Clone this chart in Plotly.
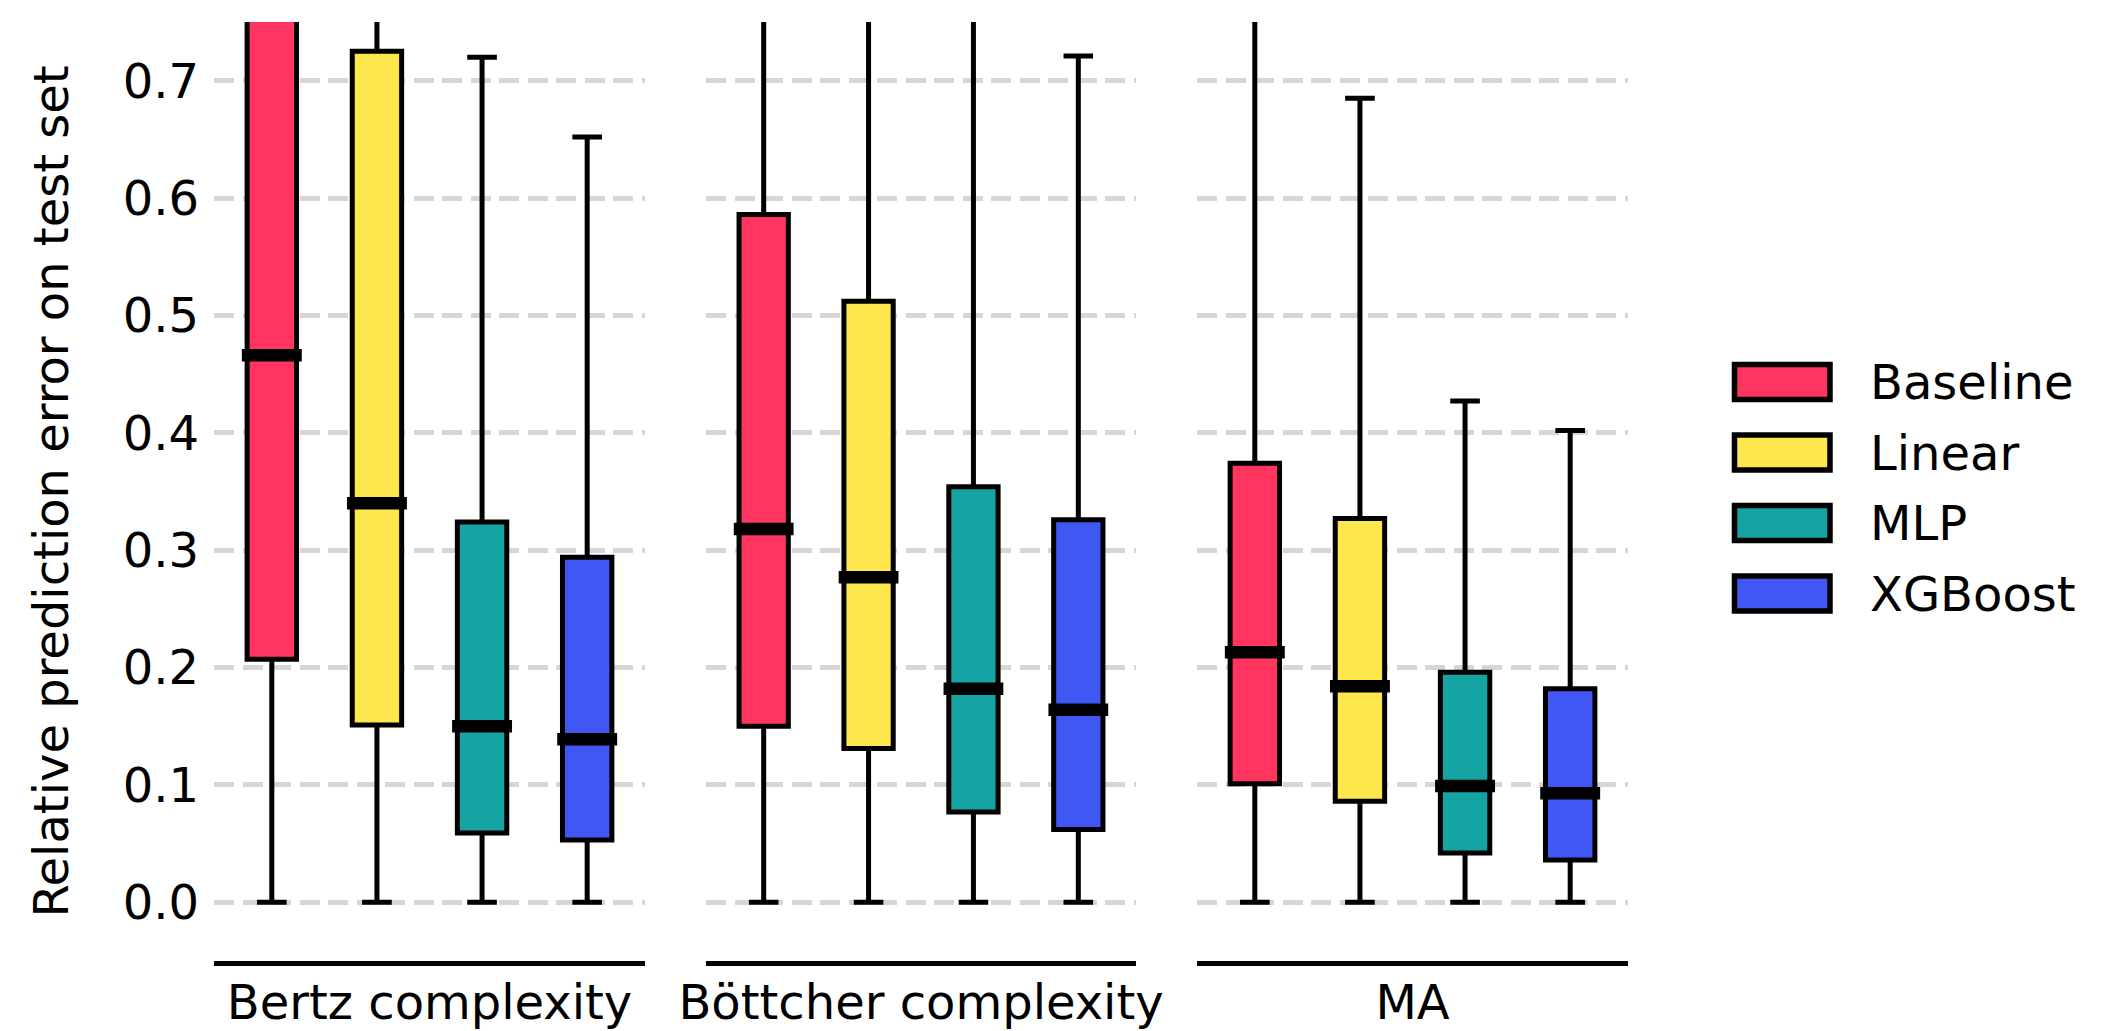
import plotly.graph_objects as go

# ---------------- data ----------------
facets = ["Bertz complexity", "Böttcher complexity", "MA"]
models = ["Baseline", "Linear", "MLP", "XGBoost"]
colors = ["#FF3560", "#FDE74C", "#15A3A3", "#4057F3"]

# rows = facets, columns = models
lower_fence = [[0.0, 0.0, 0.0, 0.0],
               [0.0, 0.0, 0.0, 0.0],
               [0.0, 0.0, 0.0, 0.0]]
q1 = [[0.207, 0.151, 0.059, 0.053],
      [0.150, 0.131, 0.077, 0.062],
      [0.101, 0.086, 0.042, 0.036]]
median = [[0.466, 0.340, 0.150, 0.139],
          [0.318, 0.277, 0.182, 0.164],
          [0.213, 0.184, 0.099, 0.093]]
q3 = [[0.950, 0.725, 0.324, 0.294],
      [0.586, 0.512, 0.354, 0.326],
      [0.374, 0.327, 0.196, 0.182]]
upper_fence = [[1.80, 1.30, 0.720, 0.652],
               [1.20, 1.00, 0.850, 0.721],
               [0.95, 0.685, 0.427, 0.402]]

y_ticks = [0.0, 0.1, 0.2, 0.3, 0.4, 0.5, 0.6, 0.7]
y_title = "Relative prediction error on test set"

# ---------------- figure ----------------
W, H = 2120, 1031
M_TOP, M_BOT = 22, 70
PLOT_H = H - M_TOP - M_BOT
domains = [[214 / W, 645 / W], [706 / W, 1136 / W], [1197 / W, 1628 / W]]
BOX_W = 0.47
MED_HALF = 0.285

fig = go.Figure()
for f, fac in enumerate(facets):
    xa = "x" if f == 0 else f"x{f + 1}"
    for m, model in enumerate(models):
        fig.add_trace(go.Box(
            x=[m], q1=[q1[f][m]], median=[median[f][m]], q3=[q3[f][m]],
            lowerfence=[lower_fence[f][m]], upperfence=[upper_fence[f][m]],
            name=model, fillcolor=colors[m],
            line=dict(color="black", width=5),
            width=BOX_W, whiskerwidth=0.6, boxpoints=False,
            xaxis=xa, yaxis="y", showlegend=False, hoverinfo="skip"))
    mx, my = [], []
    for m in range(len(models)):
        mx += [m - MED_HALF, m + MED_HALF, None]
        my += [median[f][m], median[f][m], None]
    fig.add_trace(go.Scatter(x=mx, y=my, mode="lines",
                             line=dict(color="black", width=12.5),
                             xaxis=xa, yaxis="y", showlegend=False,
                             hoverinfo="skip"))

layout = dict(
    width=W, height=H,
    margin=dict(l=0, r=0, t=M_TOP, b=M_BOT, autoexpand=False),
    plot_bgcolor="white", paper_bgcolor="white",
    font=dict(family="DejaVu Sans", size=48, color="black"),
    boxmode="overlay", showlegend=False,
)
for f in range(len(facets)):
    key = "xaxis" if f == 0 else f"xaxis{f + 1}"
    layout[key] = dict(
        domain=domains[f], range=[-0.55, 3.55], anchor="y",
        showline=True, linecolor="black", linewidth=5,
        showgrid=False, zeroline=False,
        tickvals=[1.5], ticktext=[facets[f]], ticks="",
        ticklabelstandoff=-5, automargin=False,
        tickfont=dict(size=48, color="black"),
    )
layout["yaxis"] = dict(
    domain=[0, 1], range=[-0.05, 0.75], anchor="x",
    showline=False, zeroline=False,
    showgrid=True, gridcolor="#d6d6d6", gridwidth=5, griddash="20px,8.5px",
    tickvals=y_ticks, tickformat=".1f", ticks="",
    ticklabelstandoff=14, automargin=False,
    tickfont=dict(size=48, color="black"),
    title=dict(text=y_title, standoff=38, font=dict(size=48, color="black")),
)
fig.update_layout(**layout)


def py_to_paper(py):
    return (H - M_BOT - py) / PLOT_H


# manual legend with large swatches
LEG_TOP, LEG_STEP, SW_H = 382, 70.5, 35
for i, (model, col) in enumerate(zip(models, colors)):
    cy = LEG_TOP + i * LEG_STEP
    fig.add_shape(type="rect", xref="paper", yref="paper",
                  x0=1734.5 / W, x1=1830 / W,
                  y0=py_to_paper(cy + SW_H / 2), y1=py_to_paper(cy - SW_H / 2),
                  fillcolor=col, line=dict(color="black", width=5.5))
    fig.add_annotation(x=1868 / W, y=py_to_paper(cy), xref="paper", yref="paper",
                       text=model, showarrow=False, xanchor="left",
                       yanchor="middle", font=dict(size=48, color="black"))

fig.write_html("out.html",
               config={"displayModeBar": False},
               post_script="document.body.style.margin='0';document.body.style.overflow='hidden';")
